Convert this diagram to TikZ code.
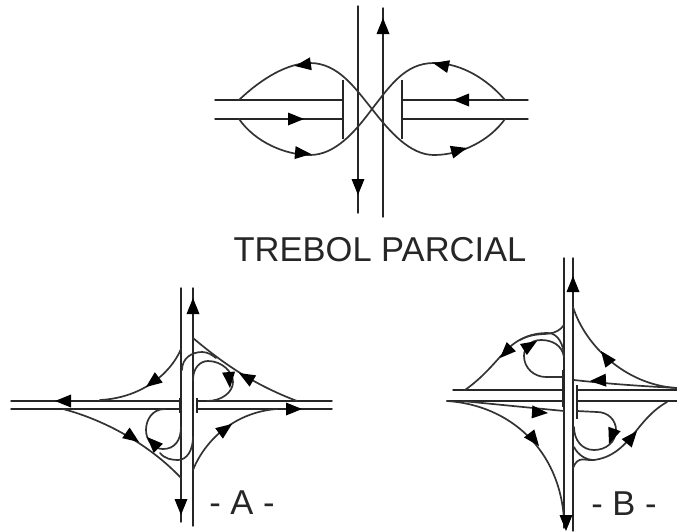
\documentclass[tikz,border=0pt]{standalone}
\usepackage{fontspec}
\setmainfont{Liberation Sans}
\newcommand{\arrowtip}[3]{\fill[tipfill,shift={(#1,#2)},rotate=#3] (0pt,0pt) -- (-16pt,6.5pt) -- (-16pt,-6.5pt) -- cycle;}
\tikzset{
  road/.style={draw=black!85,line width=1.4pt,line cap=round},
  ramp/.style={draw=black!80,line width=1.7pt,line cap=round},
  bar/.style={draw=black!85,line width=1.8pt},
  tipfill/.style={fill=black},
  lab/.style={font=\fontsize{34.5}{36}\selectfont,text=black!85,inner sep=0pt}
}
\begin{document}
\begin{tikzpicture}[x=1pt,y=-1pt]
\useasboundingbox (0,0) rectangle (677,531);
% ---- top: TREBOL PARCIAL
\draw[road] (358,6) -- (358,213);
\draw[road] (383,8) -- (383,217);
\draw[road] (215,100) -- (343,100);
\draw[road] (215,119) -- (343,119);
\draw[road] (402,100) -- (528,100);
\draw[road] (402,119) -- (528,119);
\draw[bar] (343,80) -- (343,139);
\draw[bar] (402,80) -- (402,139);
\draw[ramp] (239,100) .. controls (262,78) and (288,63) .. (310,63) .. controls (338,63) and (355,88) .. (372,109) .. controls (390,132) and (410,155) .. (434,155) .. controls (462,155) and (490,140) .. (505,119);
\draw[ramp] (239,119) .. controls (255,142) and (285,155) .. (310,155) .. controls (335,155) and (355,132) .. (372,109) .. controls (390,86) and (405,63) .. (434,63) .. controls (462,63) and (488,80) .. (505,100);
\arrowtip{358}{195}{-90}
\arrowtip{383}{18}{90}
\arrowtip{295}{66}{188}
\arrowtip{433}{63}{167}
\arrowtip{453}{100}{180}
\arrowtip{304}{119}{0}
\arrowtip{311}{154}{-5}
\arrowtip{467}{148}{15}
\node[lab] (title) at (380,250) {TREBOL PARCIAL};
% ---- A
\draw[road] (181,288) -- (181,522);
\draw[road] (193,288) -- (193,526);
\draw[road] (11,401) -- (180,401);
\draw[road] (11,409) -- (180,409);
\draw[road] (197,401) -- (332,401);
\draw[road] (197,409) -- (332,409);
\draw[bar] (180,398) -- (180,413);
\draw[bar] (197,398) -- (197,413);
\draw[ramp] (193,338) .. controls (225,365) and (255,385) .. (297,401);
\draw[ramp] (181,349) .. controls (170,375) and (140,398) .. (100,400);
\draw[ramp] (63,409) .. controls (105,420) and (150,445) .. (181,478);
\draw[ramp] (193,470) .. controls (205,440) and (235,412) .. (277,409);
\draw[ramp] (182,370) .. controls (182,358) and (192,352) .. (202,352) .. controls (208,352) and (212,355) .. (216,358);
\draw[ramp] (193,380) .. controls (193,368) and (200,361) .. (208,361) .. controls (222,361) and (233,372) .. (233,382) .. controls (233,392) and (222,401) .. (207,401);
\draw[ramp] (165,409) .. controls (152,409) and (146,420) .. (146,430) .. controls (146,441) and (154,449) .. (163,449) .. controls (175,449) and (181,440) .. (181,427);
\draw[ramp] (160,453) .. controls (165,459) and (172,460) .. (178,460) .. controls (187,460) and (193,450) .. (193,437);
\arrowtip{193}{298}{90}
\arrowtip{181}{515}{-90}
\arrowtip{55}{401}{180}
\arrowtip{302}{409}{0}
\arrowtip{239}{373}{150}
\arrowtip{230}{388}{-85}
\arrowtip{146}{387}{217}
\arrowtip{139}{442}{-35}
\arrowtip{232}{424}{36}
\arrowtip{147}{437}{135}
\node[lab] (labA) at (242,503) {- A -};
% ---- B
\draw[road] (564,258) -- (564,528);
\draw[road] (573,258) -- (573,531);
\draw[road] (453,390) -- (563,390);
\draw[road] (447,401) -- (563,401);
\draw[road] (577,390) -- (677,390);
\draw[road] (577,401) -- (677,401);
\draw[bar] (563,370) -- (563,407);
\draw[bar] (577,385) -- (577,419);
\draw[ramp] (564,325) .. controls (556,336) and (545,333) .. (534,335) .. controls (505,340) and (500,365) .. (465,390);
\draw[ramp] (520,340) .. controls (530,334) and (540,333) .. (548,333) .. controls (558,333) and (564,345) .. (564,357);
\draw[ramp] (564,357) .. controls (562,345) and (552,340) .. (541,340) .. controls (530,340) and (524,348) .. (524,356) .. controls (524,368) and (534,377) .. (546,377) -- (562,377);
\draw[ramp] (447,401) .. controls (510,405) and (560,450) .. (564,520);
\draw[ramp] (462,401) -- (564,411);
\draw[ramp] (577,411) -- (597,412) .. controls (608,412) and (616,420) .. (616,430) .. controls (616,442) and (606,450) .. (594,450) .. controls (582,450) and (574,440) .. (574,427);
\draw[ramp] (573,468) .. controls (578,455) and (585,461) .. (594,460) .. controls (630,455) and (635,420) .. (667,402);
\draw[ramp] (574,447) .. controls (578,455) and (586,460) .. (594,460);
\draw[ramp] (573,307) .. controls (585,345) and (625,385) .. (677,388);
\draw[ramp] (574,380) .. controls (610,384) and (640,386) .. (677,388);
\arrowtip{573}{276}{90}
\arrowtip{566}{531}{-90}
\arrowtip{500}{358}{225}
\arrowtip{537}{341}{32}
\arrowtip{539}{446}{-52}
\arrowtip{548}{413}{-4}
\arrowtip{609}{444}{250}
\arrowtip{637}{431}{50}
\arrowtip{601}{351}{127}
\arrowtip{590}{381}{183}
\node[lab] (labB) at (624,504) {- B -};
\end{tikzpicture}
\end{document}
